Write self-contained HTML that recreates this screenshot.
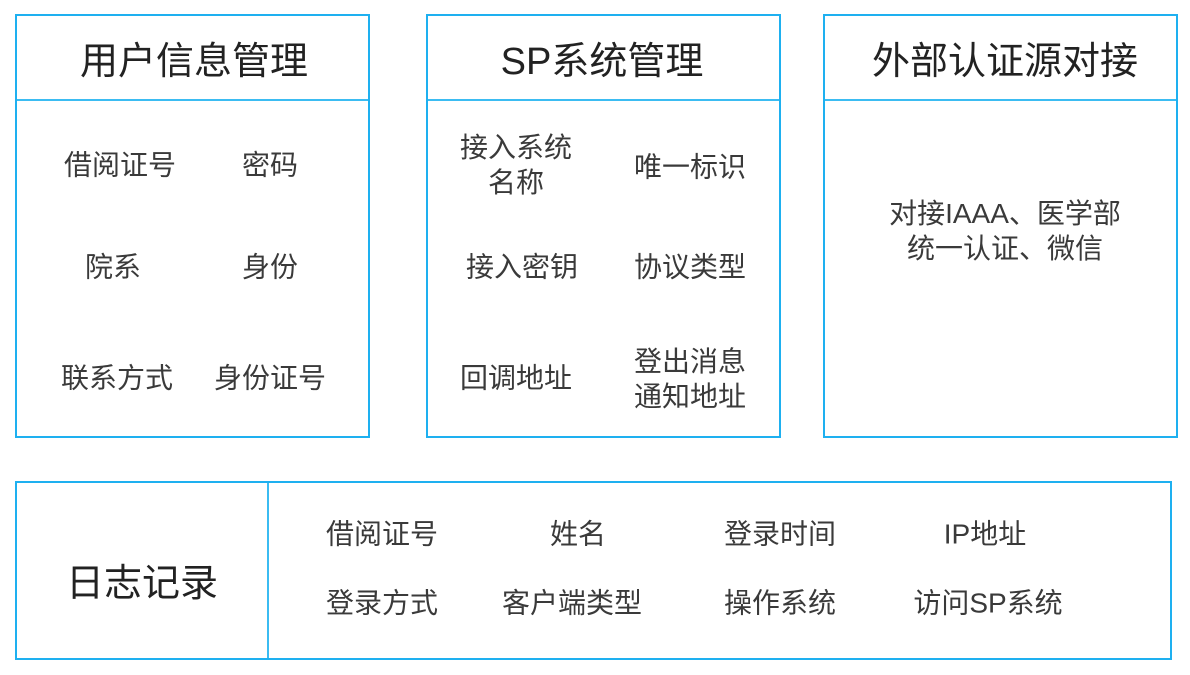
<!DOCTYPE html>
<html><head><meta charset="utf-8"><style>
body{margin:0;width:1190px;height:675px;background:#fff;position:relative;overflow:hidden;font-family:"Liberation Sans","Noto Sans CJK SC",sans-serif;color:#333}
.b{position:absolute;border:2.5px solid #1eb0f0;box-sizing:border-box}
.d{position:absolute;background:#3bbcf2}
.t{position:absolute;transform:translate(-50%,-50%);white-space:nowrap;font-size:28px;line-height:35px;text-align:center;color:#3a3a3a}
.h{font-size:38px;color:#222;line-height:42px}
</style></head><body>
<div class="b" style="left:15px;top:14px;width:355px;height:424px"></div>
<div class="d" style="left:17px;top:99px;width:351px;height:1.5px"></div>
<div class="b" style="left:426px;top:14px;width:355px;height:424px"></div>
<div class="d" style="left:428px;top:99px;width:351px;height:1.5px"></div>
<div class="b" style="left:823px;top:14px;width:355px;height:424px"></div>
<div class="d" style="left:825px;top:99px;width:351px;height:1.5px"></div>
<div class="b" style="left:15px;top:481px;width:1157px;height:179px"></div>
<div class="d" style="left:267px;top:483px;width:1.5px;height:175px"></div>

<div class="t h" style="left:194px;top:62px">用户信息管理</div>
<div class="t h" style="left:602px;top:62px">SP系统管理</div>
<div class="t h" style="left:1005px;top:62px">外部认证源对接</div>

<div class="t" style="left:120px;top:165px">借阅证号</div>
<div class="t" style="left:270px;top:165px">密码</div>
<div class="t" style="left:113px;top:267px">院系</div>
<div class="t" style="left:270px;top:267px">身份</div>
<div class="t" style="left:117px;top:378px">联系方式</div>
<div class="t" style="left:270px;top:378px">身份证号</div>

<div class="t" style="left:516px;top:165px">接入系统<br>名称</div>
<div class="t" style="left:690px;top:167px">唯一标识</div>
<div class="t" style="left:522px;top:267px">接入密钥</div>
<div class="t" style="left:690px;top:267px">协议类型</div>
<div class="t" style="left:516px;top:378px">回调地址</div>
<div class="t" style="left:690px;top:379px">登出消息<br>通知地址</div>

<div class="t" style="left:1005px;top:231px">对接IAAA、医学部<br>统一认证、微信</div>

<div class="t h" style="left:142px;top:584px">日志记录</div>
<div class="t" style="left:382px;top:534px">借阅证号</div>
<div class="t" style="left:578px;top:534px">姓名</div>
<div class="t" style="left:780px;top:534px">登录时间</div>
<div class="t" style="left:985px;top:534px">IP地址</div>
<div class="t" style="left:382px;top:603px">登录方式</div>
<div class="t" style="left:572px;top:603px">客户端类型</div>
<div class="t" style="left:780px;top:603px">操作系统</div>
<div class="t" style="left:988px;top:603px">访问SP系统</div>
</body></html>
